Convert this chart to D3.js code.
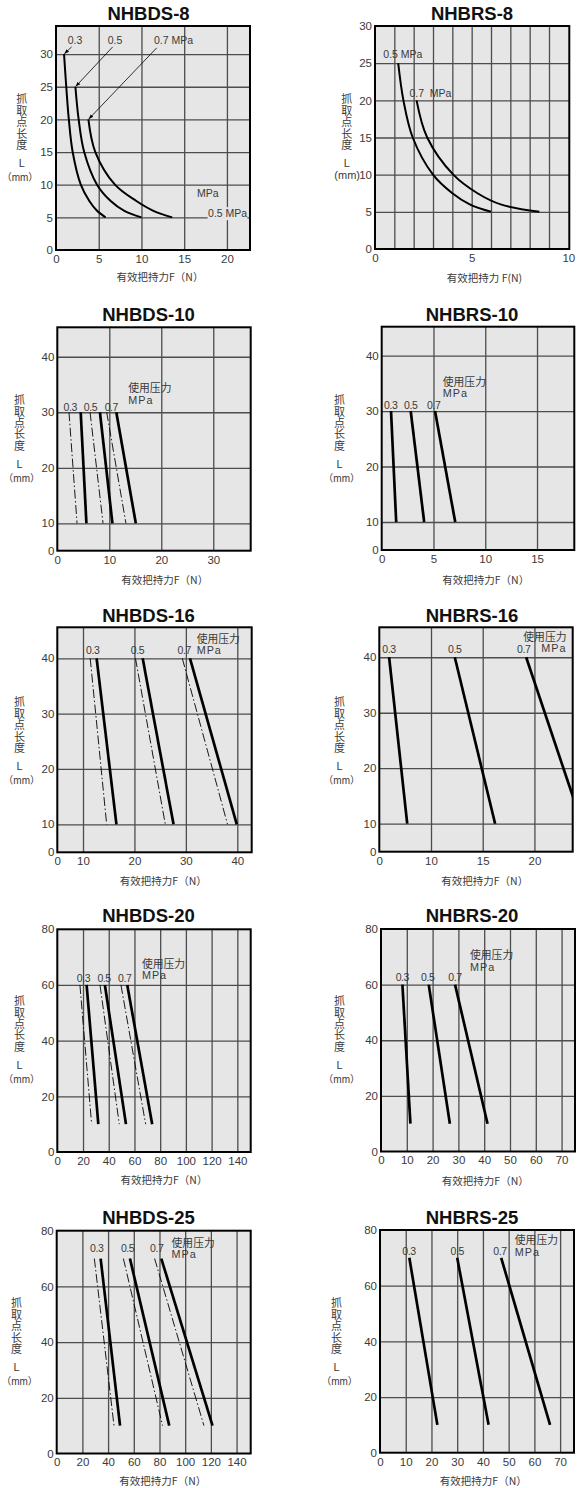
<!DOCTYPE html>
<html><head><meta charset="utf-8">
<script src="https://cdn.jsdelivr.net/npm/d3@7"></script>
<style>
body{margin:0;background:#fff}
svg{display:block}
text{font-family:"Liberation Sans",Arial,"Noto Sans CJK SC",sans-serif}
text.cjk{font-family:"Noto Sans CJK SC","Liberation Sans",sans-serif}
text.vert{font-family:"Noto Sans CJK SC",sans-serif;writing-mode:vertical-rl;text-orientation:upright}
</style>
</head><body>
<svg id="c" width="587" height="1488"></svg>
<script>
// ================= DATA =================
const panelTitles = ["NHBDS-8","NHBRS-8","NHBDS-10","NHBRS-10","NHBDS-16","NHBRS-16","NHBDS-20","NHBRS-20","NHBDS-25","NHBRS-25"];
const pressures = ["0.3","0.5","0.7"];
const unitLabels = ["使用压力","MPa"];
const yTitleChars = "抓取点长度";
const yTitleL = "L";
const yTitleUnit = "（mm）";
const yTitleUnitRS8 = "(mm)";
const xAxisTitle = "有效把持力F（N）";
const xAxisTitleRS8 = "有效把持力 F(N)";

// NHBDS-8 curves: [F (N), L (mm)]
const ds8_03 = [[0.94,30],[1.2,25],[1.5,20],[1.95,15],[2.9,10],[3.9,7.5],[4.8,6],[5.8,5]];
const ds8_05 = [[2.27,25],[2.65,20],[3.3,15],[4.8,10],[6.4,7.5],[8.0,6],[10.0,5]];
const ds8_07 = [[3.79,20],[4.6,15],[6.9,10],[9.4,7.5],[11.4,6],[13.6,5]];
const ds8_xTicks = [0,5,10,15,20], ds8_yTicks = [0,5,10,15,20,25,30];
const ds8_xGrid = [5,10,15,20], ds8_yGrid = [5,10,15,20,25,30];

// NHBRS-8
const rs8_05 = [[1.2,25],[1.47,20],[1.95,15],[3.0,10],[4.0,7.5],[4.9,6],[6.0,5]];
const rs8_07 = [[2.15,20],[2.7,15],[4.05,10],[5.3,7.5],[6.5,6],[8.5,5]];
const rs8_xTicks = [0,5,10], rs8_yTicks = [0,5,10,15,20,25,30];
const rs8_xGrid = [1,2,3,4,5,6,7,8,9], rs8_yGrid = [5,10,15,20,25];

// Straight-line panels: L range [top, bottom]; F at [top L, bottom L] per pressure 0.3/0.5/0.7
const ds10_L = [30,10];
const ds10_solid = [[4.5,5.6],[8.2,10.6],[11.35,15.1]];
const ds10_dash  = [[2.25,3.8],[6.3,8.8],[9.5,13.2]];
const ds10_xTicks = [0,10,20,30], ds10_yTicks = [0,10,20,30,40];
const ds10_xGrid = [10,20,30], ds10_yGrid = [10,20,30,40];

const rs10_L = [30,10];
const rs10_solid = [[0.9,1.4],[2.8,4.1],[5.15,7.1]];
const rs10_xTicks = [0,5,10,15], rs10_yTicks = [0,10,20,30,40];
const rs10_xGrid = [5,10,15], rs10_yGrid = [10,20,30,40];

const ds16_L = [40,10];
const ds16_solid = [[12.65,16.5],[21.6,27.6],[30.8,39.9]];
const ds16_dash  = [[11.4,14.6],[20.2,26.0],[29.3,38.1]];
const ds16_xTicks = [0,10,20,30,40], ds16_yTicks = [0,10,20,30,40];
const ds16_xGrid = [10,20,30,40], ds16_yGrid = [10,20,30,40];

const rs16_L = [40,10];
const rs16_solid = [[1.9,5.4],[12.3,16.2],[19.2,24.6]];
const rs16_xTicks = [0,10,15,20], rs16_yTicks = [0,10,20,30,40];
const rs16_xGrid = [10,15,20], rs16_yGrid = [10,20,30,40];

const ds20_L = [60,10];
const ds20_solid = [[22.8,31.9],[37,53.4],[54.4,73.8]];
const ds20_dash  = [[17.6,26.7],[33.2,48.2],[49.5,68.7]];
const ds20_xTicks = [0,20,40,60,80,100,120,140], ds20_yTicks = [0,20,40,60,80];
const ds20_xGrid = [20,40,60,80,100,120,140], ds20_yGrid = [20,40,60];

const rs20_L = [60,10];
const rs20_solid = [[8.3,11.4],[18.5,26.7],[28.7,41.3]];
const rs20_xTicks = [0,10,20,30,40,50,60,70], rs20_yTicks = [0,20,40,60,80];
const rs20_xGrid = [10,20,30,40,50,60,70], rs20_yGrid = [20,40,60];

const ds25_L = [70,10];
const ds25_solid = [[34.2,49.3],[57,87.6],[81.4,121.3]];
const ds25_dash  = [[29.3,44.6],[51.9,82.4],[76.2,114.6]];
const ds25_xTicks = [0,20,40,60,80,100,120,140], ds25_yTicks = [0,20,40,60,80];
const ds25_xGrid = [20,40,60,80,100,120,140], ds25_yGrid = [20,40,60];

const rs25_L = [70,10];
const rs25_solid = [[11.4,22.3],[30,42.2],[47.1,66.1]];
const rs25_xTicks = [0,10,20,30,40,50,60,70], rs25_yTicks = [0,20,40,60,80];
const rs25_xGrid = [10,20,30,40,50,60,70], rs25_yGrid = [20,40,60];

// ================= LAYOUT =================
const BG = "#e6e6e6", GRID = "#4d4d4d", TXT = "#3a3a3a";
const svg = d3.select("#c");
const defs = svg.append("defs");
defs.append("marker").attr("id","arr").attr("viewBox","0 0 10 10")
  .attr("refX",9).attr("refY",5).attr("markerWidth",5).attr("markerHeight",5)
  .attr("markerUnits","userSpaceOnUse").attr("orient","auto")
  .append("path").attr("d","M0,1.5 L10,5 L0,8.5 z").attr("fill","#000");

function straight(L, F){ return F.map(f => [[f[0], L[0]], [f[1], L[1]]]); }

const colX = [148.5, 472];
const rowY = [20.3, 320.7, 622, 922.3, 1224];

const panels = [
 {xd:[0,22.7], xr:[56,250], yd:[0,34.3], yr:[250,26],
  xT:ds8_xTicks, yT:ds8_yTicks, xG:ds8_xGrid, yG:ds8_yGrid,
  solid:[ds8_03, ds8_05, ds8_07], dash:[], sw:2,
  xt:[160,280.5], yt:[21.7,99.3], mmx:20, curve:true},
 {xd:[0,10.05], xr:[375,569.3], yd:[0,30], yr:[249,26],
  xT:rs8_xTicks, yT:rs8_yTicks, xG:rs8_xGrid, yG:rs8_yGrid,
  solid:[rs8_05, rs8_07], dash:[], sw:2,
  xt:[484.5,282], yt:[346.7,99.3], curve:true, rs8:true},
 {xd:[0,37.2], xr:[57.3,250.7], yd:[0,10,45.3], yr:[550.7,523.3,327.3],
  xT:ds10_xTicks, yT:ds10_yTicks, xG:ds10_xGrid, yG:ds10_yGrid,
  solid:straight(ds10_L, ds10_solid), dash:straight(ds10_L, ds10_dash), sw:2.7,
  xt:[164.7,583.5], yt:[19.5,400], mmx:21.7,
  nums:[[2.5,30.3],[6.4,30.3],[10.4,30.3]], u1:[13.65,33.6,"start"], u2:[13.65,31.5,"start"]},
 {xd:[0,18.6], xr:[381.7,574.3], yd:[0,10,45.2], yr:[550,522,326.7],
  xT:rs10_xTicks, yT:rs10_yTicks, xG:rs10_xGrid, yG:rs10_yGrid,
  solid:straight(rs10_L, rs10_solid), dash:[], sw:2.7,
  xt:[485.7,584], yt:[339.5,400], mmx:341.7,
  nums:[[0.87,30.4],[2.8,30.4],[5.03,30.4]], u1:[5.9,34.6,"start"], u2:[5.9,32.6,"start"]},
 {xd:[0,10,42.8], xr:[57.3,83,251.7], yd:[0,10,45.6], yr:[852.3,824.3,627.3],
  xT:ds16_xTicks, yT:ds16_yTicks, xG:ds16_xGrid, yG:ds16_yGrid,
  solid:straight(ds16_L, ds16_solid), dash:straight(ds16_L, ds16_dash), sw:2.7,
  xt:[163.3,885], yt:[19.5,702.3], mmx:21.7,
  nums:[[11.9,40.8],[20.6,40.8],[29.7,40.8]], u1:[32.1,42.8,"start"], u2:[32.1,40.75,"start"]},
 {xd:[0,10,23.7], xr:[379.3,431,572.7], yd:[0,10,45.4], yr:[851.7,823.7,627.3],
  xT:rs16_xTicks, yT:rs16_yTicks, xG:rs16_xGrid, yG:rs16_yGrid,
  solid:straight(rs16_L, rs16_solid), dash:[], sw:2.7,
  xt:[484.7,885], yt:[339.5,702.3], mmx:341.7,
  nums:[[1.88,40.7],[12.3,40.7],[18.97,40.7]], u1:[23.1,43,"end"], u2:[23.1,41,"end"]},
 {xd:[0,150.4], xr:[57.3,250.7], yd:[0,80], yr:[1152,929.3],
  xT:ds20_xTicks, yT:ds20_yTicks, xG:ds20_xGrid, yG:ds20_yGrid,
  solid:straight(ds20_L, ds20_solid), dash:straight(ds20_L, ds20_dash), sw:2.7,
  xt:[164,1184], yt:[19.5,1001], mmx:21.7,
  nums:[[20.3,61.2],[36.4,61.2],[52.5,61.2]], u1:[65.8,66.2,"start"], u2:[65.8,62,"start"]},
 {xd:[0,75.2], xr:[381,575], yd:[0,80], yr:[1151.5,929],
  xT:rs20_xTicks, yT:rs20_yTicks, xG:rs20_xGrid, yG:rs20_yGrid,
  solid:straight(rs20_L, rs20_solid), dash:[], sw:2.7,
  xt:[485.3,1184.5], yt:[339.5,1001], mmx:341.7,
  nums:[[8.27,61.4],[18.1,61.4],[28.7,61.4]], u1:[34.5,69.2,"start"], u2:[34.5,65,"start"]},
 {xd:[0,151], xr:[56.7,250.7], yd:[0,80], yr:[1453.5,1230.7],
  xT:ds25_xTicks, yT:ds25_yTicks, xG:ds25_xGrid, yG:ds25_yGrid,
  solid:straight(ds25_L, ds25_solid), dash:straight(ds25_L, ds25_dash), sw:2.7,
  xt:[162.8,1485], yt:[16.5,1303.3], mmx:19.5,
  nums:[[31.1,72.5],[55.2,72.5],[77.8,72.5]], u1:[89.4,74.3,"start"], u2:[89.4,70.3,"start"]},
 {xd:[0,75.4], xr:[380,574], yd:[0,80], yr:[1452.7,1230],
  xT:rs25_xTicks, yT:rs25_yTicks, xG:rs25_xGrid, yG:rs25_yGrid,
  solid:straight(rs25_L, rs25_solid), dash:[], sw:2.7,
  xt:[483.3,1485], yt:[336.5,1303.3], mmx:339.5,
  nums:[[11.3,71],[30,71],[46.6,71]], u1:[52.4,74.9,"start"], u2:[52.4,70.7,"start"]}
];

panels.forEach((p, i) => {
  const x = d3.scaleLinear().domain(p.xd).range(p.xr);
  const y = d3.scaleLinear().domain(p.yd).range(p.yr);
  const L = p.xr[0], R = p.xr[p.xr.length-1], B = p.yr[0], T = p.yr[p.yr.length-1];
  const g = svg.append("g");

  defs.append("clipPath").attr("id","clip"+i).append("rect")
    .attr("x",L).attr("y",T).attr("width",R-L).attr("height",B-T);

  g.append("rect").attr("x",L).attr("y",T).attr("width",R-L).attr("height",B-T).attr("fill",BG);

  // grid via axes
  const gx = g.append("g").attr("transform",`translate(0,${B})`)
    .call(d3.axisBottom(x).tickValues(p.xG).tickSize(-(B-T)).tickFormat(""));
  const gy = g.append("g").attr("transform",`translate(${L},0)`)
    .call(d3.axisLeft(y).tickValues(p.yG).tickSize(-(R-L)).tickFormat(""));
  [gx, gy].forEach(a => { a.select(".domain").remove();
    a.selectAll("line").attr("stroke",GRID).attr("stroke-width",1.3); });

  const line = d3.line().x(d => x(d[0])).y(d => y(d[1]));
  if (p.curve) line.curve(d3.curveCatmullRom.alpha(0.5));
  const sg = g.append("g").attr("clip-path",`url(#clip${i})`);
  p.dash.forEach(s => sg.append("path").attr("d", line(s)).attr("fill","none")
    .attr("stroke","#000").attr("stroke-width",0.9).attr("stroke-dasharray","9,2.5,1.5,2.5"));
  p.solid.forEach(s => sg.append("path").attr("d", line(s)).attr("fill","none")
    .attr("stroke","#000").attr("stroke-width",p.sw).attr("stroke-linecap","butt"));

  // frame
  g.append("rect").attr("x",L).attr("y",T).attr("width",R-L).attr("height",B-T)
    .attr("fill","none").attr("stroke","#000").attr("stroke-width",2);

  // tick labels via axes
  const ax = g.append("g").attr("transform",`translate(0,${B})`)
    .call(d3.axisBottom(x).tickValues(p.xT).tickSize(0).tickPadding(4.8));
  const ay = g.append("g").attr("transform",`translate(${L},0)`)
    .call(d3.axisLeft(y).tickValues(p.yT).tickSize(0).tickPadding(3));
  [ax, ay].forEach(a => { a.select(".domain").remove();
    a.attr("font-family",null).attr("font-size",null);
    a.selectAll("text").attr("font-size",11.5).attr("fill",TXT); });

  // title
  g.append("text").attr("x", colX[i%2]).attr("y", rowY[Math.floor(i/2)])
    .attr("text-anchor","middle").attr("font-weight","bold").attr("font-size",18.5)
    .attr("fill","#111").text(panelTitles[i]);

  // x axis title
  g.append("text").attr("class","cjk").attr("x",p.xt[0]).attr("y",p.xt[1]).attr("text-anchor","middle")
    .attr("font-size",10.5).attr("fill",TXT).text(p.rs8 ? xAxisTitleRS8 : xAxisTitle);

  // y axis title: vertical (top-to-bottom) characters
  g.append("text").attr("class","vert")
    .attr("x",p.yt[0]).attr("y",p.yt[1]-5.5)
    .attr("font-size",11).attr("letter-spacing",0.4).attr("fill",TXT).text(yTitleChars);
  g.append("text").attr("x",p.yt[0]).attr("y",p.yt[1]+4+64)
    .attr("text-anchor","middle").attr("font-size",11).attr("fill",TXT).text(yTitleL);
  if (p.rs8) {
    g.append("text").attr("x",L-15).attr("y",y(10)+4).attr("text-anchor","end")
      .attr("font-size",11).attr("fill",TXT).text(yTitleUnitRS8);
  } else {
    g.append("text").attr("x",p.mmx).attr("y",p.yt[1]+4+78)
      .attr("text-anchor","middle").attr("font-size",10).attr("fill",TXT).text(yTitleUnit);
  }

  // pressure labels
  if (p.nums) {
    p.nums.forEach((n, k) => g.append("text").attr("x",x(n[0])).attr("y",y(n[1]))
      .attr("text-anchor","middle").attr("font-size",10.5).attr("letter-spacing",-0.4)
      .attr("fill",TXT).text(pressures[k]));
    g.append("text").attr("x",x(p.u1[0])).attr("y",y(p.u1[1])).attr("text-anchor",p.u1[2])
      .attr("font-size",10.8).attr("fill",TXT).text(unitLabels[0]);
    g.append("text").attr("x",x(p.u2[0])).attr("y",y(p.u2[1])).attr("text-anchor",p.u2[2])
      .attr("font-size",10.8).attr("letter-spacing",1).attr("fill",TXT).text(unitLabels[1]);
  }

  if (i === 0) {
    // NHBDS-8 labels with leader arrows
    const labs = [[pressures[0],2.22,31.5,"middle"],[pressures[1],6.9,31.5,"middle"],[pressures[2]+" "+unitLabels[1],11.47,31.5,"start"]];
    labs.forEach(l => g.append("text").attr("x",x(l[1])).attr("y",y(l[2])).attr("text-anchor",l[3])
      .attr("font-size",10.5).attr("fill",TXT).text(l[0]));
    const tails = [[1.83,31.1],[6.63,31.1],[11.78,30.95]];
    p.solid.forEach((s, k) => g.append("line")
      .attr("x1",x(tails[k][0])).attr("y1",y(tails[k][1]))
      .attr("x2",x(s[0][0])+0.5).attr("y2",y(s[0][1])-0.5)
      .attr("stroke","#000").attr("stroke-width",0.8).attr("marker-end","url(#arr)"));
    g.append("text").attr("x",x(16.5)).attr("y",y(8.1)).attr("font-size",10.5).attr("fill",TXT).text(unitLabels[1]);
    const t = g.append("text").attr("x",x(17.8)).attr("y",y(5.03)).attr("font-size",10.5)
      .attr("fill",TXT).text(pressures[1]+" "+unitLabels[1]);
    const bb = t.node().getBBox();
    g.insert("rect", () => t.node()).attr("x",bb.x-0.5).attr("y",bb.y).attr("width",bb.width+0.5)
      .attr("height",bb.height+1).attr("fill",BG);
  }
  if (i === 1) {
    const labs = [[pressures[1]+" "+unitLabels[1],0.43,25.65],[pressures[2]+"  "+unitLabels[1],1.78,20.4]];
    labs.forEach(l => g.append("text").attr("x",x(l[1])).attr("y",y(l[2]))
      .attr("font-size",10.5).attr("fill",TXT).style("white-space","pre").text(l[0]));
  }
});
</script>
</body></html>
